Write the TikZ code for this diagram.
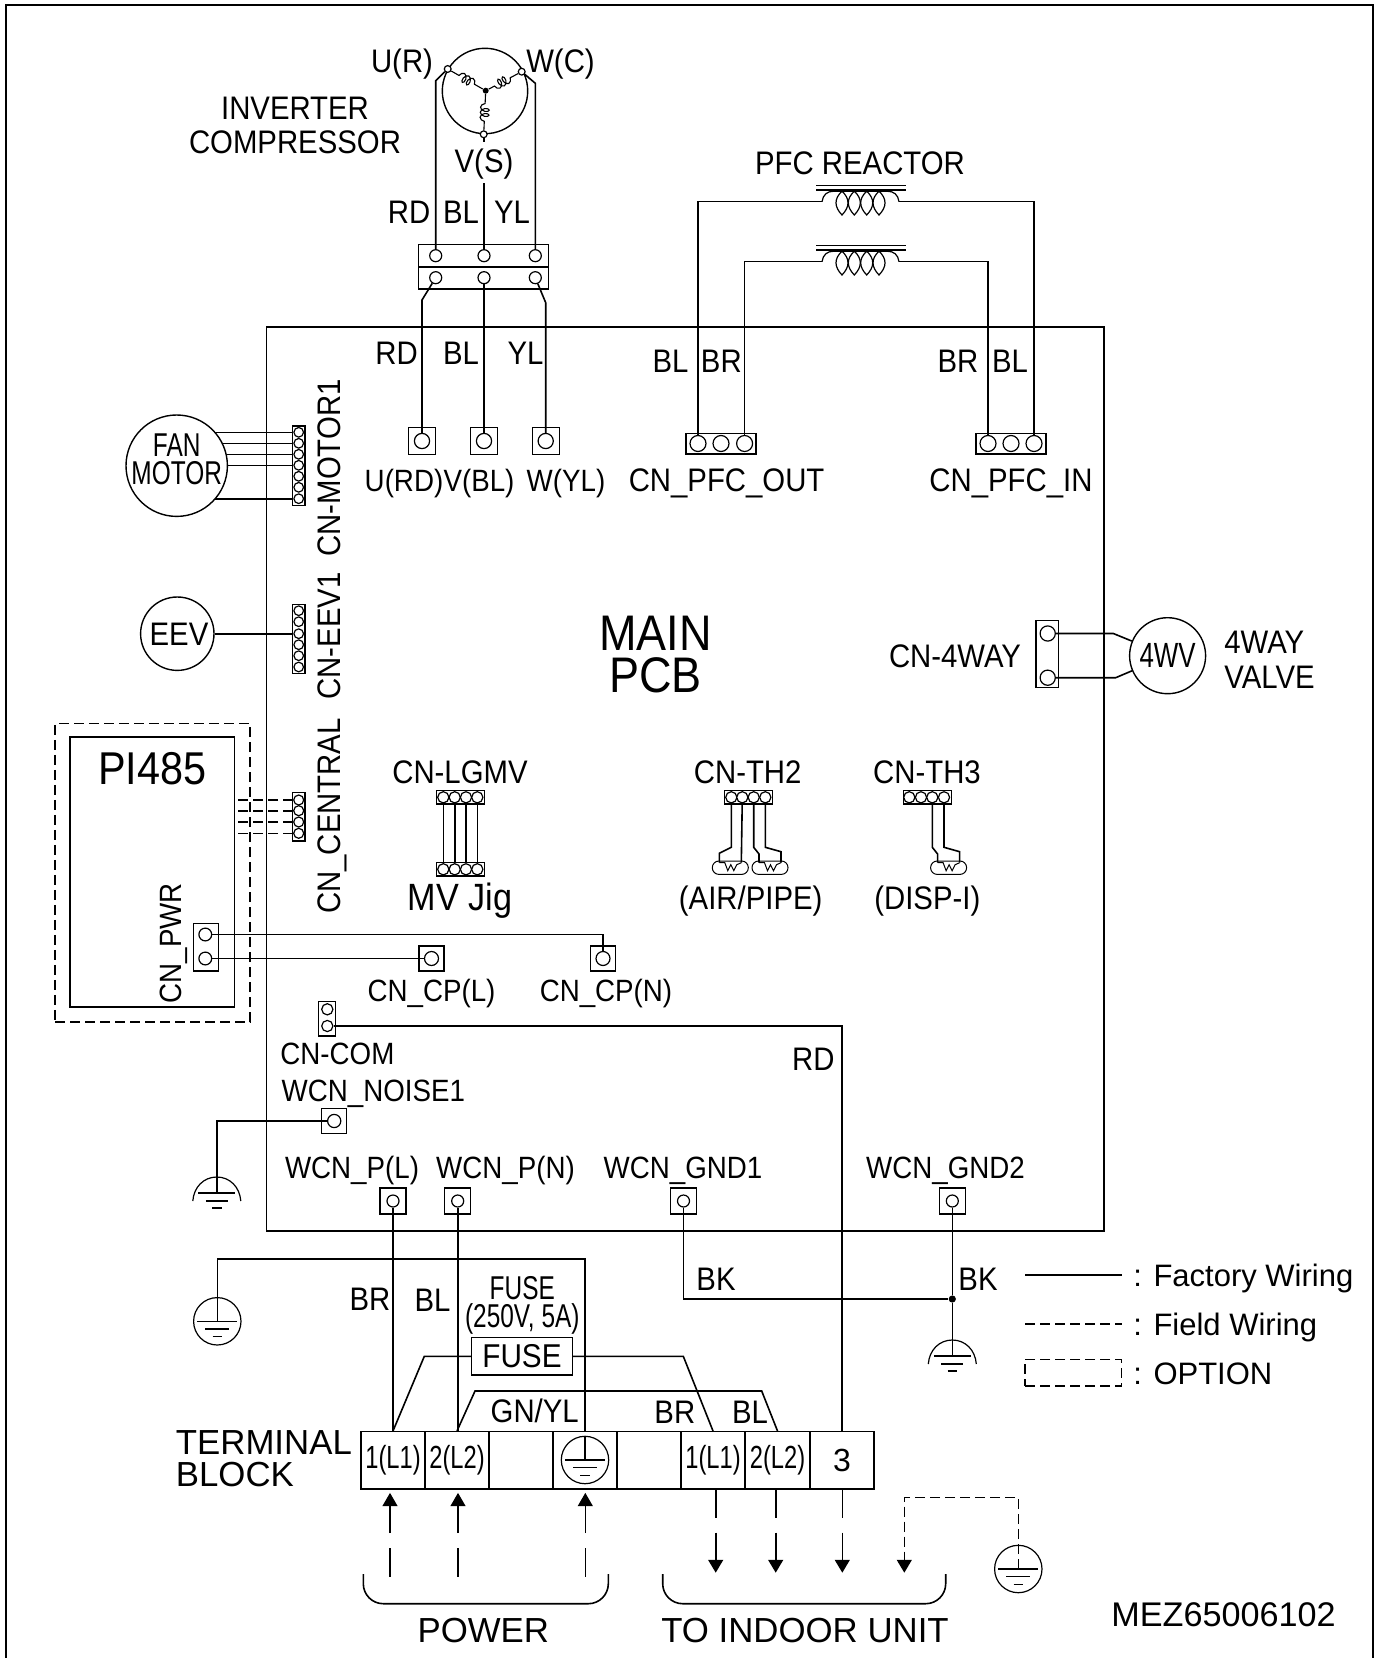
\documentclass[tikz,border=0pt]{standalone}
\usepackage{fontspec}
\setmainfont[FakeStretch=0.9]{Liberation Sans}
\newfontfamily\widefont{Liberation Sans}
\newfontfamily\slimfont[FakeStretch=0.74]{Liberation Sans}
\usetikzlibrary{arrows.meta, decorations.pathmorphing}
\tikzset{
    wire/.style={line width=0.8pt},
    thinwire/.style={line width=0.6pt},
    fieldwire/.style={line width=0.8pt, dash pattern=on 5pt off 2.5pt},
    feedin/.style={line width=0.8pt, dash pattern=on 14.35pt off 7.5pt, -{Triangle[length=6.6pt, width=7.4pt]}, shorten >=1.6pt},
    feedout/.style={line width=0.8pt, dash pattern=on 14pt off 7.5pt, -{Triangle[length=6.4pt, width=7.4pt]}},
    lbl/.style={inner sep=0pt, text height=11.7pt, text depth=0pt, font=\fontsize{16.3}{16.3}\selectfont},
    lblsmall/.style={inner sep=0pt, text height=11.4pt, text depth=0pt, font=\fontsize{15.4}{15.4}\selectfont},
    lblwide/.style={inner sep=0pt, text height=12.4pt, text depth=0pt, font=\widefont\fontsize{17.4}{17.4}\selectfont},
    lblkey/.style={inner sep=0pt, anchor=west, text height=11.1pt, text depth=0pt, font=\widefont\fontsize{15.5}{15.5}\selectfont},
    lblslim/.style={inner sep=0pt, text height=11.7pt, text depth=0pt, font=\slimfont\fontsize{16.5}{16.5}\selectfont},
    lblbig/.style={inner sep=0pt, text height=18pt, text depth=0pt, font=\fontsize{25}{25}\selectfont},
    term/.style={circle, draw, inner sep=0pt, fill=white, line width=0.6pt, minimum size=#1},
    stud/.style={draw, inner sep=0pt, line width=0.7pt, minimum size=#1},
    shell/.style={line width=0.7pt},
    cell/.style={draw, inner sep=0pt, line width=0.7pt, minimum width=32pt, minimum height=28.65pt, font=\slimfont\fontsize{16}{16}\selectfont},
    earthring/.style={circle, draw, inner sep=0pt, line width=0.6pt, minimum size=23.7pt},
    winding/.style={line width=0.55pt, decorate, decoration={coil, aspect=0.6, segment length=2.5pt, amplitude=2.2pt, pre length=4.5pt, post length=3pt}},
}
\newcommand{\earthbars}[1]{
    \begin{scope}[shift={(#1)}]
        \draw[thinwire] (-20,0) -- (20,0) (-12,7.7) -- (12,7.7) (-4.6,15.4) -- (4.6,15.4);
    \end{scope}
}
\newcommand{\earthcap}[1]{
    \begin{scope}[shift={(#1)}]
        \draw[thinwire] (-24,8) .. controls (-23,-6) and (-13,-16) .. (0,-16) .. controls (13,-16) and (23,-6) .. (24,8);
        \draw[thinwire] (-18.5,0) -- (18.5,0) (-11,8) -- (11,8) (-4.7,15) -- (4.7,15);
    \end{scope}
}
\newcommand{\reactorcoil}[1]{
    \begin{scope}[shift={(#1)}]
        \draw[thinwire] (-6,-16) -- (84,-16) (-6,-11.7) -- (84,-11.7);
        \draw[thinwire] (0,0) .. controls (1,-7) and (5,-10.5) .. (12,-10.5) -- (65,-10.5) .. controls (72,-10.5) and (76,-7) .. (77,0);
        \foreach \cx in {20,32.3,44.7,57}
            \draw[thinwire] (\cx,-10.5) .. controls ({\cx-8},-3) and ({\cx-8},5) .. (\cx,13.3) .. controls ({\cx+8},5) and ({\cx+8},-3) .. (\cx,-10.5);
    \end{scope}
}
\newcommand{\thsensor}[1]{
    \begin{scope}[shift={(#1)}]
        \draw[line width=0.5pt, rounded corners=3.3pt] (-18,-6.7) rectangle (18,6.7);
        \draw[line width=0.5pt] (-11,-5) -- (-5.5,-5) -- (-2.5,3) -- (0.5,-3) -- (3.5,3) -- (6.5,-3) -- (11,-5);
    \end{scope}
}
\begin{document}
\begin{tikzpicture}[x=0.5pt, y=-0.5pt]
    \useasboundingbox (0,0) rectangle (1377,1658);
    \draw[line width=1pt] (6,1658) -- (6,5) -- (1373,5) -- (1373,1658);
    \node[draw, inner sep=0pt, line width=0.7pt, minimum width=418.75pt, minimum height=452pt] (pcb) at (685.25,779) {};
    \node[lblbig] (mainText) at (655.7,632) {MAIN};
    \node[lblbig] (pcbText) at (655.7,674) {PCB};

    \node[circle, draw, inner sep=0pt, line width=0.7pt, minimum size=42.7pt] (comp) at (485,91) {};
    \node[circle, fill, inner sep=0pt, minimum size=3pt] (compStar) at (485.7,90.7) {};
    \node[term=3.4pt] (compU) at (447.7,69) {};
    \node[term=3.4pt] (compW) at (521.7,71.7) {};
    \node[term=3.4pt] (compV) at (483.7,134.3) {};
    \draw[winding] (compU) -- (compStar);
    \draw[winding] (compW) -- (compStar);
    \draw[winding] (compV) -- (compStar);
    \node[lbl] (uLabel) at (402,61) {U(R)};
    \node[lbl] (wLabel) at (560.5,61) {W(C)};
    \node[lbl] (invLabel) at (295,108) {INVERTER};
    \node[lbl] (cmpLabel) at (295,142) {COMPRESSOR};
    \node[lbl] (vLabel) at (484,161) {V(S)};
    \node[lbl] (rdTop) at (409,211.5) {RD};
    \node[lbl] (blTop) at (461,211.5) {BL};
    \node[lbl] (ylTop) at (512,211.5) {YL};

    \draw[shell] (418.3,244.3) rectangle (548.3,267) (418.3,267) rectangle (548.3,289);
    \foreach \nm/\xx in {1/435.7,2/484,3/535.3} {
        \node[term=6pt] (rowA\nm) at (\xx,255.7) {};
        \node[term=6pt] (rowB\nm) at (\xx,277.7) {};
    }
    \coordinate (stubV) at (484,183.3);
    \draw[wire] (compU) -- (435.7,80.7) -- (rowA1);
    \draw[wire] (compW) -- (535.3,83.3) -- (rowA3);
    \draw[wire] (compV) -- (483.7,141.7);
    \draw[wire] (stubV) -- (rowA2);

    \foreach \nm/\xx in {U/422,V/484,W/545.7} {
        \node[stud=13.5pt] (stud\nm) at (\xx,441) {};
        \node[term=7.6pt] (pin\nm) at (\xx,441) {};
    }
    \draw[wire] (rowB1) -- (422,300) -- (pinU);
    \draw[wire] (rowB2) -- (pinV);
    \draw[wire] (rowB3) -- (545.7,302.7) -- (pinW);
    \node[lbl] (rdLow) at (396.6,353) {RD};
    \node[lbl] (blLow) at (461,353) {BL};
    \node[lbl] (ylLow) at (525.6,353) {YL};
    \node[lblsmall] (uName) at (404,480) {U(RD)};
    \node[lblsmall] (vName) at (479,480) {V(BL)};
    \node[lblsmall] (wName) at (566,480) {W(YL)};

    \node[lbl] (pfcLabel) at (860,163) {PFC REACTOR};
    \coordinate (coilAl) at (822,201.7);
    \coordinate (coilAr) at (899,201.7);
    \coordinate (coilBl) at (822,261.7);
    \coordinate (coilBr) at (899,261.7);
    \reactorcoil{coilAl}
    \reactorcoil{coilBl}
    \draw[shell] (686,433.6) rectangle (756,454) (976,433.6) rectangle (1046,454);
    \foreach \nm/\xx/\xy in {A/698/988,B/721/1011,C/744.6/1034} {
        \node[term=8pt] (pfcOut\nm) at (\xx,443.5) {};
        \node[term=8pt] (pfcIn\nm) at (\xy,443.5) {};
    }
    \draw[wire] (pfcOutA) |- (coilAl);
    \draw[wire] (pfcOutC) |- (coilBl);
    \draw[wire] (coilAr) -| (pfcInC);
    \draw[wire] (coilBr) -| (pfcInA);
    \node[lbl] (blOut) at (670.5,360.6) {BL};
    \node[lbl] (brOut) at (721.3,360.6) {BR};
    \node[lbl] (brIn) at (958,360.6) {BR};
    \node[lbl] (blIn) at (1010,360.6) {BL};
    \node[lbl] (pfcOutName) at (726.6,480) {CN\_PFC\_OUT};
    \node[lbl] (pfcInName) at (1011,480) {CN\_PFC\_IN};

    \coordinate (fanC) at (176.7,465.7);
    \draw[shell] (292.3,426) rectangle (305,505.3);
    \foreach \nm/\yy in {1/432.3,2/443.3,3/454.3,4/465.3,5/476.3,6/487.3,7/498.7}
        \node[term=4.8pt] (motor\nm) at (298.7,\yy) {};
    \foreach \nm in {1,2,3,4,7}
        \draw[wire] (motor\nm) -- (motor\nm -| fanC);
    \node[circle, draw, fill=white, inner sep=0pt, line width=0.7pt, minimum size=50.7pt] (fan) at (fanC) {};
    \node[lblslim] (fanText) at (176.7,445) {FAN};
    \node[lblslim] (motorText) at (176.7,473) {MOTOR};
    \node[lbl, rotate=90] (motorName) at (329,468) {CN-MOTOR1};

    \draw[shell] (292.3,604.7) rectangle (305,673.3);
    \foreach \nm/\yy in {1/610.7,2/621.7,3/633.7,4/644.7,5/655.7,6/667}
        \node[term=4.8pt] (eev\nm) at (298.7,\yy) {};
    \node[circle, draw, inner sep=0pt, line width=0.7pt, minimum size=36.7pt] (eev) at (177.3,633.7) {};
    \node[lbl] (eevText) at (179,633.7) {EEV};
    \draw[wire] (eev) -- (eev3);
    \node[lbl, rotate=90] (eevName) at (329,636) {CN-EEV1};

    \node[draw, inner sep=0pt, line width=0.7pt, minimum width=11.35pt, minimum height=33.5pt] (fwBox) at (1047.4,654.2) {};
    \node[term=7.6pt] (fwA) at (1047.7,633.5) {};
    \node[term=7.6pt] (fwB) at (1047.7,677.7) {};
    \node[circle, draw, inner sep=0pt, line width=0.7pt, minimum size=38pt] (fwv) at (1167.6,655.7) {};
    \node[lblslim, font=\slimfont\fontsize{17.5}{17.5}\selectfont] (fwvText) at (1167.6,655.7) {4WV};
    \draw[wire] (fwA) -- (1113.3,633.5) -- (fwv);
    \draw[wire] (fwB) -- (1115.7,677.7) -- (fwv);
    \node[lbl] (fwName) at (955,656) {CN-4WAY};
    \node[lbl, anchor=west] (fwValveA) at (1224,642) {4WAY};
    \node[lbl, anchor=west] (fwValveB) at (1224,677) {VALVE};

    \node[draw, dash pattern=on 5pt off 2.5pt, inner sep=0pt, line width=0.7pt, minimum width=97.5pt, minimum height=149.3pt] (piOpt) at (152.5,872.7) {};
    \node[draw, inner sep=0pt, line width=0.7pt, minimum width=82.15pt, minimum height=135pt] (piBox) at (152.15,872) {};
    \node[inner sep=0pt, text height=16.5pt, text depth=0pt, font=\fontsize{23}{23}\selectfont] (piText) at (152.3,768) {PI485};
    \draw[shell] (292.3,792.7) rectangle (305,841);
    \foreach \nm/\yy in {1/800,2/810.7,3/822,4/833.3} {
        \node[term=5pt] (cent\nm) at (298.7,\yy) {};
        \draw[fieldwire] (cent\nm) -- (cent\nm -| piBox.east);
    }
    \node[lbl, rotate=90] (centName) at (329,816) {CN\_CENTRAL};

    \draw[shell] (193.3,923.3) rectangle (218.3,971);
    \node[term=6.4pt] (pwrA) at (205.3,934.5) {};
    \node[term=6.4pt] (pwrB) at (205.3,958.5) {};
    \node[lblsmall, rotate=90] (pwrName) at (170,943.3) {CN\_PWR};
    \foreach \nm/\xx in {CpL/431.5,CpN/603} {
        \node[stud=12.5pt] (stud\nm) at (\xx,958.5) {};
        \node[term=7pt] (pin\nm) at (\xx,958.5) {};
    }
    \draw[wire] (pwrA) -| (pinCpN);
    \draw[wire] (pwrB) -- (pinCpL);
    \node[lblsmall] (cpLName) at (431.5,990) {CN\_CP(L)};
    \node[lblsmall] (cpNName) at (606,990) {CN\_CP(N)};

    \draw[shell] (436.7,790.7) rectangle (484.7,804) (436.7,862.7) rectangle (484.7,876);
    \foreach \nm/\xx in {1/443.3,2/454.7,3/466,4/477.3} {
        \node[term=5.6pt] (mvTop\nm) at (\xx,797.3) {};
        \node[term=5.6pt] (mvLow\nm) at (\xx,869.3) {};
        \draw[wire] (mvTop\nm) -- (mvLow\nm);
    }
    \node[lbl] (mvTopName) at (460,772) {CN-LGMV};
    \node[lbl, font=\fontsize{19}{19}\selectfont] (mvLowName) at (460,899) {MV Jig};

    \draw[shell] (724.3,790.7) rectangle (772.7,804) (903.3,790.7) rectangle (951.7,804);
    \foreach \nm/\xx/\xy in {1/731.3/909.3,2/742.3/921,3/753.7/932.3,4/765.3/944} {
        \node[term=5.6pt] (thB\nm) at (\xx,797.3) {};
        \node[term=5.6pt] (thC\nm) at (\xy,797.3) {};
    }
    \thsensor{730.3,867.7}
    \thsensor{770,867.7}
    \thsensor{948.6,867.7}
    \draw[wire] (thB1) -- (731.3,847.3) -- (719.3,853.3) -- (719.3,862.7);
    \draw[wire] (thB2) -- (741.3,862.7);
    \draw[wire] (thB3) -- (753.7,847.3) -- (759,854) -- (759,862.7);
    \draw[wire] (thB4) -- (765.3,847.3) -- (781,851.7) -- (781,862.7);
    \draw[wire] (thC3) -- (932.3,847.3) -- (937.6,854) -- (937.6,862.7);
    \draw[wire] (thC4) -- (944,847.3) -- (959.6,851.7) -- (959.6,862.7);
    \node[lbl] (thBName) at (747.7,771.7) {CN-TH2};
    \node[lbl] (thCName) at (927,771.7) {CN-TH3};
    \node[lbl] (thBText) at (750.7,898) {(AIR/PIPE)};
    \node[lbl] (thCText) at (927.3,898) {(DISP-I)};

    \draw[shell] (318.3,1001.7) rectangle (335.7,1036);
    \node[term=5.6pt] (comA) at (327.3,1009.3) {};
    \node[term=5.6pt] (comB) at (327.3,1026) {};
    \node[lblsmall] (comName) at (337.4,1053) {CN-COM};
    \node[lblsmall] (noiseName) at (373.3,1090) {WCN\_NOISE1};
    \node[lbl] (rdCom) at (813.3,1058.7) {RD};

    \foreach \nm/\xx/\yy/\sz/\pn in {Noise/334.2/1121/12.5pt/6.6pt,PL/393/1201/13pt/6pt,PN/457.7/1201/13pt/6pt,GndA/683.5/1201/13pt/6pt,GndB/952.3/1201/13pt/6pt} {
        \node[stud=\sz] (stud\nm) at (\xx,\yy) {};
        \node[term=\pn] (pin\nm) at (\xx,\yy) {};
    }
    \node[lblsmall] (plName) at (352,1167) {WCN\_P(L)};
    \node[lblsmall] (pnName) at (505.5,1167) {WCN\_P(N)};
    \node[lblsmall] (gndAName) at (683,1167) {WCN\_GND1};
    \node[lblsmall] (gndBName) at (945.5,1167) {WCN\_GND2};

    \coordinate (earthB) at (216.8,1193);
    \earthcap{earthB}
    \draw[wire] (pinNoise) -| (earthB);

    \node[cell] (tb1) at (393,1460.3) {1(L1)};
    \node[cell] (tb2) at (457,1460.3) {2(L2)};
    \node[cell] (tb3) at (521,1460.3) {};
    \node[cell] (tb4) at (585,1460.3) {};
    \node[cell] (tb5) at (649,1460.3) {};
    \node[cell] (tb6) at (713,1460.3) {1(L1)};
    \node[cell] (tb7) at (777.5,1460.3) {2(L2)};
    \node[cell] (tb8) at (842,1460.3) {\widefont\fontsize{16}{16}\selectfont 3};
    \node[lblwide, anchor=west] (tbTextA) at (175.5,1442) {TERMINAL};
    \node[lblwide, anchor=west] (tbTextB) at (175.5,1474) {BLOCK};

    \node[earthring] (earthA) at (217.3,1321.3) {};
    \earthbars{earthA}
    \draw[wire] (tb4.north) -- (585,1259) -| (earthA.center);
    \node[earthring] (earthT) at (585,1460) {};
    \earthbars{earthT}
    \draw[thinwire] (earthT.north) -- (earthT.center);

    \draw[wire] (pinPL) -- (pinPL |- tb1.north);
    \draw[wire] (pinPN) -- (pinPN |- tb2.north);
    \draw[wire] (comB) -| (tb8.north);
    \node[lbl] (brP) at (370,1298.7) {BR};
    \node[lbl] (blP) at (432.6,1300) {BL};

    \node[draw, inner sep=0pt, line width=0.7pt, minimum width=50.3pt, minimum height=18.65pt, font=\fontsize{16.5}{16.5}\selectfont] (fuse) at (522,1356.3) {FUSE};
    \node[lblslim] (fuseTop) at (522.3,1287.7) {FUSE};
    \node[lblslim] (fuseVal) at (522.3,1315.7) {(250V, 5A)};
    \draw[wire] (fuse) -- (424.3,1356.3) -- (tb1.north);
    \draw[wire] (fuse) -- (683.3,1356.3) -- (tb6.north);
    \draw[wire] (tb2.north) -- (475,1391) -- (761.7,1391) -- (tb7.north);
    \node[lbl] (gnyl) at (534.7,1410.7) {GN/YL};
    \node[lbl] (brT) at (674.8,1412) {BR};
    \node[lbl] (blT) at (750,1412) {BL};

    \node[circle, fill, inner sep=0pt, minimum size=3.6pt] (junc) at (952.3,1299) {};
    \coordinate (earthC) at (952.3,1356);
    \earthcap{earthC}
    \draw[wire] (pinGndB) -- (junc);
    \draw[wire] (pinGndA) |- (junc);
    \draw[wire] (junc) -- (earthC);
    \node[lbl] (bkA) at (716,1278.6) {BK};
    \node[lbl] (bkB) at (978,1278.6) {BK};

    \coordinate (feedA) at (390,1576.7);
    \coordinate (feedB) at (458,1576.7);
    \coordinate (feedC) at (585.3,1576.7);
    \draw[feedin] (feedA) -- (feedA |- tb1.south);
    \draw[feedin] (feedB) -- (feedB |- tb2.south);
    \draw[feedin] (feedC) -- (feedC |- tb4.south);
    \coordinate (dropA) at (715.7,1572.7);
    \coordinate (dropB) at (775.7,1572.7);
    \coordinate (dropC) at (842.3,1572.7);
    \coordinate (dropD) at (904.3,1572.7);
    \draw[feedout] (dropA |- tb6.south) -- (dropA);
    \draw[feedout] (dropB |- tb7.south) -- (dropB);
    \draw[feedout] (dropC |- tb8.south) -- (dropC);
    \node[earthring] (earthD) at (1018.3,1569) {};
    \earthbars{earthD}
    \draw[fieldwire] (earthD.center) -- (1018.3,1497.3) -- (904.3,1497.3) -- (904.3,1560);
    \draw[wire, -{Triangle[length=6.4pt, width=7.4pt]}] (904.3,1560) -- (dropD);

    \draw[wire, rounded corners=10pt] (363.3,1574) -- (363.3,1603.7) -- (608.3,1603.7) -- (608.3,1574);
    \draw[wire, rounded corners=10pt] (662.7,1574) -- (662.7,1603.7) -- (945.7,1603.7) -- (945.7,1574);
    \node[lblwide] (powerText) at (483.3,1630) {POWER};
    \node[lblwide] (indoorText) at (805,1630) {TO INDOOR UNIT};
    \node[lblwide, font=\widefont\fontsize{17.1}{17.1}\selectfont] (partNo) at (1223.6,1614) {MEZ65006102};

    \coordinate (keyAl) at (1025,1275);
    \coordinate (keyAr) at (1121.7,1275);
    \coordinate (keyBl) at (1025,1324);
    \coordinate (keyBr) at (1121.7,1324);
    \draw[wire] (keyAl) -- (keyAr);
    \draw[fieldwire] (keyBl) -- (keyBr);
    \node[draw, dash pattern=on 5pt off 2.5pt, inner sep=0pt, line width=0.7pt, minimum width=48.35pt, minimum height=13.35pt] (keyBox) at (1073.35,1372.7) {};
    \node[lblkey] (keyA) at (1133,1275.5) {: Factory Wiring};
    \node[lblkey] (keyB) at (1133,1324) {: Field Wiring};
    \node[lblkey] (keyC) at (1133,1373) {: OPTION};
\end{tikzpicture}
\end{document}
